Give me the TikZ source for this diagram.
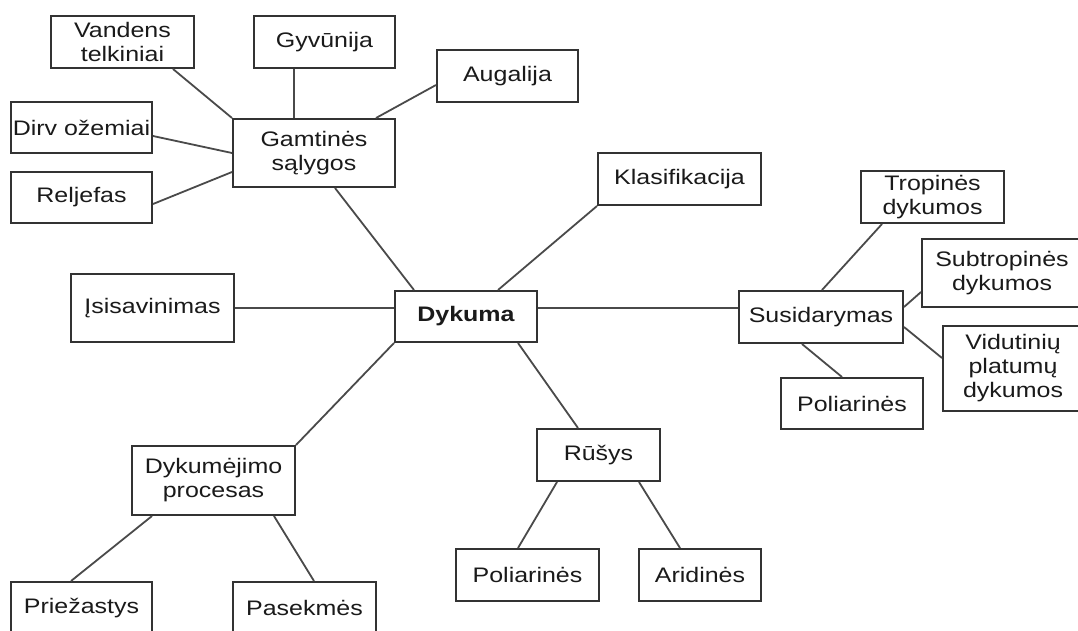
\documentclass[tikz,border=0pt]{standalone}
\usepackage{fontspec}
\setmainfont{Liberation Sans}[FakeStretch=1.19]
\definecolor{boxline}{HTML}{333333}
\definecolor{conn}{HTML}{4A4A4A}
\definecolor{txt}{HTML}{1A1A1A}
\begin{document}
\begin{tikzpicture}[x=1pt,y=-1pt,
  bx/.style={draw=boxline, line width=2pt, fill=white, rectangle, inner sep=0pt,
    align=center, text=txt, font=\fontsize{21}{24}\selectfont},
  cn/.style={draw=conn, line width=1.8pt}]
\useasboundingbox (0,0) rectangle (1078,630);
\fill[white] (0,0) rectangle (1078,630);
\clip (0,0) rectangle (1078,630);
% nodes
\node[bx, minimum width=143pt, minimum height=52pt] (vand) at (122.5,42) {Vandens\\telkiniai};
\node[bx, minimum width=141pt, minimum height=52pt] (gyv) at (324.5,42) {Gyvūnija};
\node[bx, minimum width=141pt, minimum height=52pt] (aug) at (507.5,76) {Augalija};
\node[bx, minimum width=141pt, minimum height=51pt] (dirv) at (81.5,127.5) {Dirv ožemiai};
\node[bx, minimum width=141pt, minimum height=51pt] (relj) at (81.5,197.5) {Reljefas};
\node[bx, minimum width=162pt, minimum height=68pt] (gamt) at (314,153) {Gamtinės\\sąlygos};
\node[bx, minimum width=163pt, minimum height=52pt] (klas) at (679.5,179) {Klasifikacija};
\node[bx, minimum width=143pt, minimum height=52pt] (trop) at (932.5,197) {Tropinės\\dykumos};
\node[bx, minimum width=160pt, minimum height=68pt] (subt) at (1002,273) {Subtropinės\\dykumos};
\node[bx, minimum width=164pt, minimum height=52pt] (susi) at (821,317) {Susidarymas};
\node[bx, minimum width=140pt, minimum height=85pt] (vidu) at (1013,368.5) {Vidutinių\\platumų\\dykumos};
\node[bx, minimum width=142pt, minimum height=51pt] (pol1) at (852,403.5) {Poliarinės};
\node[bx, minimum width=163pt, minimum height=68pt] (isis) at (152.5,308) {Įsisavinimas};
\node[bx, minimum width=142pt, minimum height=51pt, font=\fontsize{21}{24}\selectfont\bfseries] (dyk) at (466,316.5) {Dykuma};
\node[bx, minimum width=163pt, minimum height=69pt] (dprc) at (213.5,480.5) {Dykumėjimo\\procesas};
\node[bx, minimum width=141pt, minimum height=52pt] (prie) at (81.5,608) {Priežastys};
\node[bx, minimum width=143pt, minimum height=52pt] (pase) at (304.5,608) {Pasekmės};
\node[bx, minimum width=123pt, minimum height=52pt] (rusy) at (598.5,455) {Rūšys};
\node[bx, minimum width=143pt, minimum height=52pt] (pol2) at (527.5,575) {Poliarinės};
\node[bx, minimum width=122pt, minimum height=52pt] (arid) at (700,575) {Aridinės};
% connectors
\draw[cn] ([xshift=50.5pt]vand.south) -- (gamt.north west);
\draw[cn] ([xshift=-30.5pt]gyv.south) -- ([xshift=-20pt]gamt.north);
\draw[cn] ([yshift=-9pt]aug.west) -- ([xshift=62pt]gamt.north);
\draw[cn] ([yshift=-8.5pt]dirv.east) -- (gamt.west);
\draw[cn] ([yshift=-6.5pt]relj.east) -- ([yshift=-19pt]gamt.west);
\draw[cn] ([xshift=21pt]gamt.south) -- ([xshift=-52pt]dyk.north);
\draw[cn] (klas.south west) -- ([xshift=32pt]dyk.north);
\draw[cn] (isis.east) -- ([yshift=8.5pt]dyk.west);
\draw[cn] ([yshift=8.5pt]dyk.east) -- ([yshift=9pt]susi.west);
\draw[cn] (dyk.south west) -- (dprc.north east);
\draw[cn] ([xshift=52pt]dyk.south) -- ([xshift=-20.5pt]rusy.north);
\draw[cn] ([xshift=-61.5pt]dprc.south) -- ([xshift=-10.5pt]prie.north);
\draw[cn] ([xshift=60.5pt]dprc.south) -- ([xshift=9.5pt]pase.north);
\draw[cn] ([xshift=-41.5pt]rusy.south) -- ([xshift=-9.5pt]pol2.north);
\draw[cn] ([xshift=40.5pt]rusy.south) -- ([xshift=-20pt]arid.north);
\draw[cn] ([xshift=1pt]susi.north) -- ([xshift=-50.5pt]trop.south);
\draw[cn] ([yshift=10pt]susi.east) -- ([yshift=-19pt]subt.west);
\draw[cn] ([yshift=-10pt]susi.east) -- ([yshift=10.5pt]vidu.west);
\draw[cn] ([xshift=-19pt]susi.south) -- ([xshift=-10pt]pol1.north);
\end{tikzpicture}
\end{document}
